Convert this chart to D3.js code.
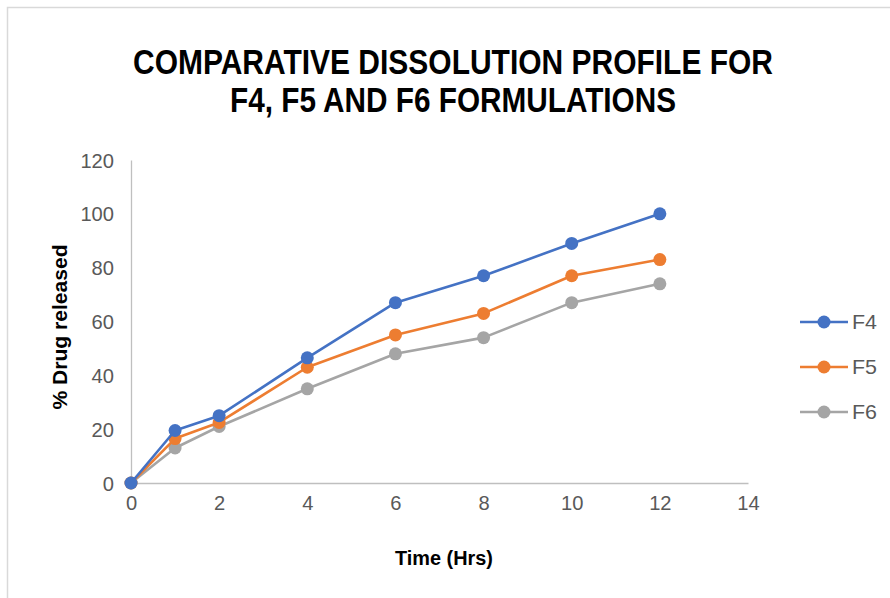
<!DOCTYPE html>
<html>
<head>
<meta charset="utf-8">
<script src="https://cdn.jsdelivr.net/npm/d3@7"></script>
<style>
  body { margin: 0; background: #fff; }
  svg { display: block; }
</style>
</head>
<body>
<div id="chart"></div>
<script>
// Comparative dissolution profile, F4 / F5 / F6

var hours = [0, 1, 2, 4, 6, 8, 10, 12];
var f4 = [0, 19.5, 25, 46.5, 67, 77, 89, 100];
var f5 = [0, 16.5, 22.5, 43, 55, 63, 77, 83];
var f6 = [0, 13, 21, 35, 48, 54, 67, 74];
var seriesNames = ["F4", "F5", "F6"];
var xTicks = [0, 2, 4, 6, 8, 10, 12, 14];
var yTicks = [0, 20, 40, 60, 80, 100, 120];

var colors = ["#4472C4", "#ED7D31", "#A5A5A5"];
var narrow = "'Liberation Sans Narrow', 'Arial Narrow', 'Liberation Sans', Arial, sans-serif";

var width = 890, height = 598;
var margin = { top: 160, right: 142, bottom: 115, left: 131 };

var svg = d3.select("#chart").append("svg")
    .attr("width", width)
    .attr("height", height);

// outer chart frame (only top and left edges visible in the crop)
svg.append("rect")
    .attr("x", 7.5).attr("y", 7.5)
    .attr("width", 900).attr("height", 620)
    .attr("fill", "none")
    .attr("stroke", "#d9d9d9")
    .attr("stroke-width", 1.5);

var xScale = d3.scaleLinear().domain([0, 14]).range([margin.left, width - margin.right]);
var yScale = d3.scaleLinear().domain([0, 120]).range([height - margin.bottom, margin.top]);

// title
var title = svg.append("g")
    .style("font-family", narrow)
    .style("font-weight", "bold")
    .style("font-size", "35px")
    .attr("fill", "#000")
    .attr("text-anchor", "middle");
title.append("text").attr("x", 453).attr("y", 74)
    .attr("textLength", 640).attr("lengthAdjust", "spacingAndGlyphs")
    .text("COMPARATIVE DISSOLUTION PROFILE FOR");
title.append("text").attr("x", 453).attr("y", 112)
    .attr("textLength", 446).attr("lengthAdjust", "spacingAndGlyphs")
    .text("F4, F5 AND F6 FORMULATIONS");

// axes
var xAxis = d3.axisBottom(xScale).tickValues(xTicks).tickSize(0).tickPadding(13);
var yAxis = d3.axisLeft(yScale).tickValues(yTicks).tickSize(0).tickPadding(17);

var gx = svg.append("g")
    .attr("transform", "translate(0," + yScale(0) + ")")
    .call(xAxis);
var gy = svg.append("g")
    .attr("transform", "translate(" + xScale(0) + ",0)")
    .call(yAxis);

[gx, gy].forEach(function(g) {
    g.select(".domain").attr("stroke", "#bfbfbf").attr("stroke-width", 1.3);
    g.selectAll(".tick text")
        .attr("fill", "#595959")
        .style("font-family", narrow)
        .style("font-size", "20px")
        .attr("textLength", function(d) { return String(d).length * 11.2; })
        .attr("lengthAdjust", "spacingAndGlyphs");
});
gy.selectAll(".tick text").attr("dy", "0.35em");

// axis titles
svg.append("text")
    .attr("x", 444).attr("y", 565)
    .attr("text-anchor", "middle")
    .style("font-family", narrow)
    .style("font-weight", "bold")
    .style("font-size", "20px")
    .attr("textLength", 98).attr("lengthAdjust", "spacingAndGlyphs")
    .text("Time (Hrs)");

svg.append("text")
    .attr("transform", "translate(67," + 327 + ") rotate(-90)")
    .attr("text-anchor", "middle")
    .style("font-family", narrow)
    .style("font-weight", "bold")
    .style("font-size", "20px")
    .attr("textLength", 165).attr("lengthAdjust", "spacingAndGlyphs")
    .text("% Drug released");

// series
var series = [f4, f5, f6].map(function(vals, i) {
    return {
        name: seriesNames[i],
        color: colors[i],
        points: hours.map(function(h, j) { return { x: h, y: vals[j] }; })
    };
});

var line = d3.line()
    .x(function(d) { return xScale(d.x); })
    .y(function(d) { return yScale(d.y); });

// draw in reverse so F4 sits on top
var sg = svg.selectAll(".series")
    .data(series.slice().reverse())
  .enter().append("g")
    .attr("class", "series");

sg.append("path")
    .attr("d", function(d) { return line(d.points); })
    .attr("fill", "none")
    .attr("stroke", function(d) { return d.color; })
    .attr("stroke-width", 2.6)
    .attr("stroke-linejoin", "round");

sg.selectAll("circle")
    .data(function(d) { return d.points.map(function(p) { return { p: p, color: d.color }; }); })
  .enter().append("circle")
    .attr("cx", function(d) { return xScale(d.p.x); })
    .attr("cy", function(d) { return yScale(d.p.y); })
    .attr("r", 6.5)
    .attr("fill", function(d) { return d.color; });

// legend
var legend = svg.selectAll(".legend")
    .data(series)
  .enter().append("g")
    .attr("class", "legend")
    .attr("transform", function(d, i) { return "translate(800," + (322 + i * 45) + ")"; });

legend.append("line")
    .attr("x1", 0).attr("x2", 48)
    .attr("stroke", function(d) { return d.color; })
    .attr("stroke-width", 2.6);
legend.append("circle")
    .attr("cx", 24).attr("r", 6.5)
    .attr("fill", function(d) { return d.color; });
legend.append("text")
    .attr("x", 52).attr("dy", "0.35em")
    .attr("fill", "#595959")
    .style("font-family", narrow)
    .style("font-size", "21px")
    .attr("textLength", 25).attr("lengthAdjust", "spacingAndGlyphs")
    .text(function(d) { return d.name; });
</script>
</body>
</html>
